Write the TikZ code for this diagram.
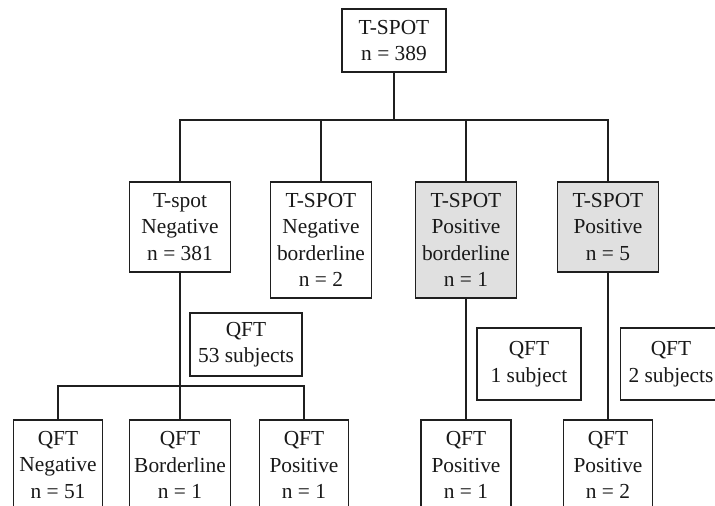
\documentclass[tikz,border=0pt]{standalone}
\usepackage{fontspec}
\setmainfont{Liberation Serif}
\begin{document}
\begin{tikzpicture}[x=1pt,y=-1pt,
  box/.style={draw=black!88,line width=1.5pt,fill=white,align=center,inner sep=0pt,
    font=\fontsize{21.4}{26.6}\selectfont,text=black!90},
  posbox/.style={box,fill=black!12},
  link/.style={draw=black!88,line width=2pt}]
\useasboundingbox (0,0) rectangle (715,506);
\clip (0,0) rectangle (715,506);
% level 0
\node[box,minimum width=104,minimum height=63] (top) at (394,40.5) {T-SPOT\\n = 389};
% level 1
\node[box,minimum width=101,minimum height=90] (c1) at (180,227) {T-spot\\Negative\\n = 381};
\node[box,minimum width=101,minimum height=116] (c2) at (321,240) {T-SPOT\\Negative\\borderline\\n = 2};
\node[posbox,minimum width=101,minimum height=116] (c3) at (466,240) {T-SPOT\\Positive\\borderline\\n = 1};
\node[posbox,minimum width=101,minimum height=90] (c4) at (608,227) {T-SPOT\\Positive\\n = 5};
% QFT label boxes
\node[box,minimum width=112,minimum height=63] (q1) at (246,344.5) {QFT\\53 subjects};
\node[box,minimum width=104,minimum height=72] (q2) at (529,364) {QFT\\1 subject};
\node[box,minimum width=101,minimum height=72] (q3) at (671,364) {QFT\\2 subjects};
% level 2
\node[box,minimum width=89,minimum height=90] (d1) at (58,465) {QFT\\Negative\\n = 51};
\node[box,minimum width=101,minimum height=90] (d2) at (180,465) {QFT\\Borderline\\n = 1};
\node[box,minimum width=89,minimum height=90] (d3) at (304,465) {QFT\\Positive\\n = 1};
\node[box,minimum width=90,minimum height=90] (e1) at (466,465) {QFT\\Positive\\n = 1};
\node[box,minimum width=89,minimum height=90] (e2) at (608,465) {QFT\\Positive\\n = 2};
% connectors
\coordinate (j1) at (394,120);
\coordinate (j2) at (180,386);
\draw[link] (top.south) -- (j1);
\draw[link] (c1.north) |- (j1) -| (c4.north);
\draw[link] (j1) -| (c2.north);
\draw[link] (j1) -| (c3.north);
\draw[link] (c1.south) -- (j2);
\draw[link] (d1.north) |- (j2) -| (d3.north);
\draw[link] (j2) -- (d2.north);
\draw[link] (c3.south) -- (e1.north);
\draw[link] (c4.south) -- (e2.north);
\end{tikzpicture}
\end{document}
